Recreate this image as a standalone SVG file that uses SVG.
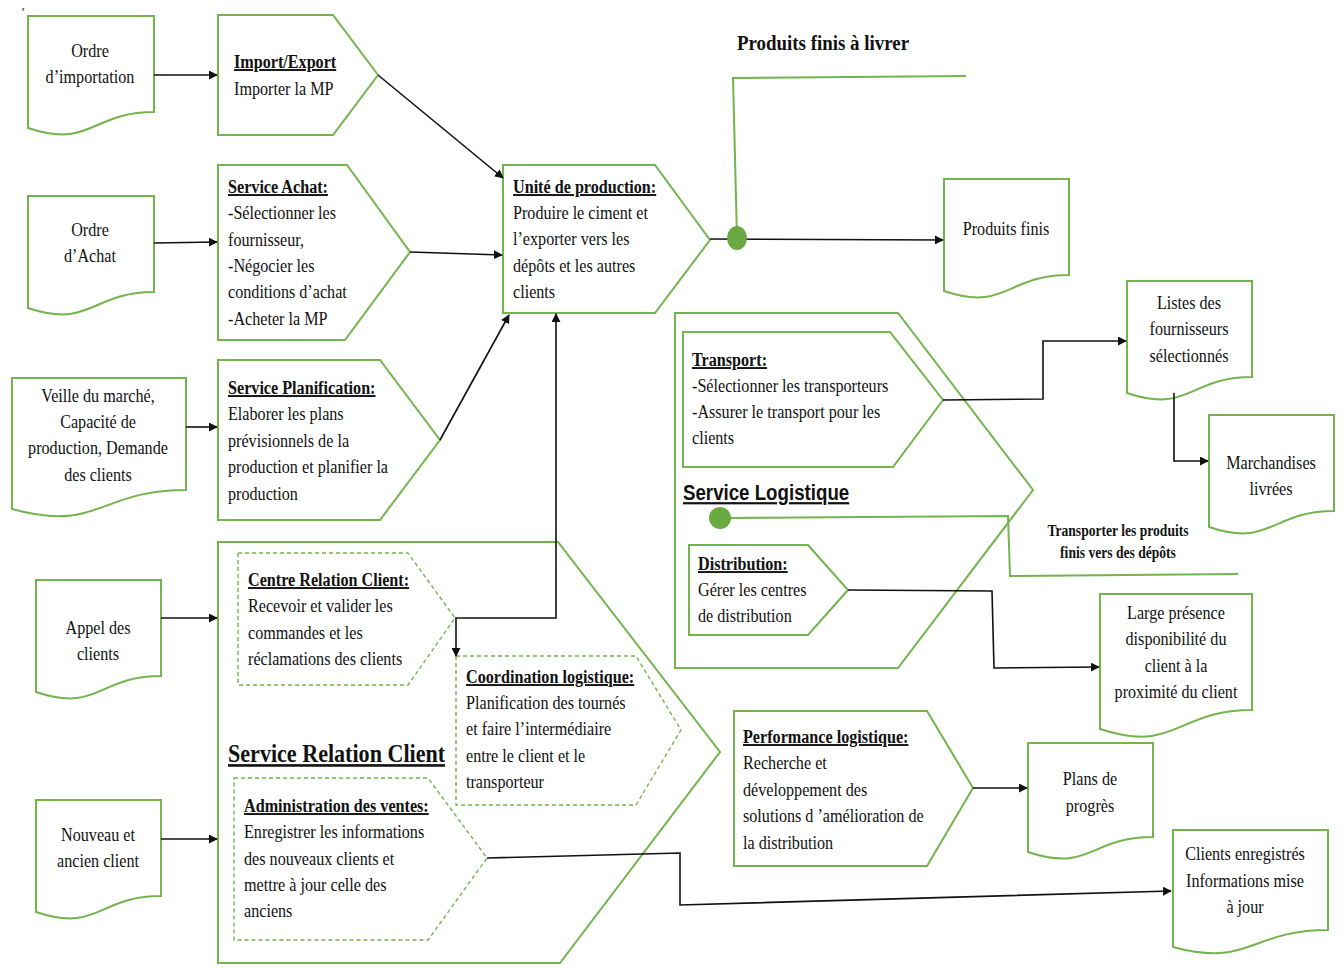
<svg xmlns="http://www.w3.org/2000/svg" width="1344" height="971" viewBox="0 0 1344 971">
  <style>
    .shape { fill: #ffffff; stroke: #74B44E; stroke-width: 2; }
    .dash { fill: #ffffff; stroke: #74B44E; stroke-width: 1.4; stroke-dasharray: 4 3; }
    .gline { fill: none; stroke: #74B44E; stroke-width: 2; }
    .dot { fill: #6AA842; }
    .conn { fill: none; stroke: #111111; stroke-width: 1.6; }
    .t { font-family: "Liberation Serif", "Times New Roman", serif; font-size: 19px; fill: #111111; }
    .c { text-anchor: middle; }
    .b { font-weight: bold; text-decoration: underline; }
    .bold { font-weight: bold; }
    .big { font-size: 26px; }
    .sans { font-family: "Liberation Sans", Arial, sans-serif; font-size: 22px; font-weight: bold; text-decoration: underline; fill: #111111; }
  </style>
  <defs>
    <marker id="arr" viewBox="0 0 10 10" refX="9" refY="5" markerWidth="9" markerHeight="9" markerUnits="userSpaceOnUse" orient="auto">
      <path d="M0,0 L10,5 L0,10 z" fill="#111111"/>
    </marker>
  </defs>

  <rect width="1344" height="971" fill="#ffffff"/>
  <text x="21" y="16" style="font-family:'Liberation Serif',serif;font-size:12px;fill:#111">’</text>

  <!-- documents -->
  <g id="ordre-importation">
    <path class="shape" d="M28,16 H154 V112 C91,112 91,149 28,128 Z"/>
    <text class="t c" transform="translate(90 0) scale(.85 1)"><tspan x="0" y="57">Ordre</tspan><tspan x="0" y="83">d’importation</tspan></text>
  </g>
  <g id="ordre-achat">
    <path class="shape" d="M28,196 H154 V292 C91,292 91,329 28,308 Z"/>
    <text class="t c" transform="translate(90 0) scale(.85 1)"><tspan x="0" y="236">Ordre</tspan><tspan x="0" y="262">d’Achat</tspan></text>
  </g>
  <g id="veille-marche">
    <path class="shape" d="M12,378 H186 V490 C99,490 99,533 12,509 Z"/>
    <text class="t c" transform="translate(98 0) scale(.85 1)"><tspan x="0" y="402">Veille du marché,</tspan><tspan x="0" y="428">Capacité de</tspan><tspan x="0" y="454">production, Demande</tspan><tspan x="0" y="481">des clients</tspan></text>
  </g>
  <g id="appel-clients">
    <path class="shape" d="M36,580 H161 V676 C98,676 98,713 36,692 Z"/>
    <text class="t c" transform="translate(98 0) scale(.85 1)"><tspan x="0" y="634">Appel des</tspan><tspan x="0" y="660">clients</tspan></text>
  </g>
  <g id="nouveau-client">
    <path class="shape" d="M36,800 H161 V896 C98,896 98,933 36,912 Z"/>
    <text class="t c" transform="translate(98 0) scale(.85 1)"><tspan x="0" y="841">Nouveau et</tspan><tspan x="0" y="867">ancien client</tspan></text>
  </g>
  <g id="produits-finis">
    <path class="shape" d="M944,179 H1069 V275 C1006,275 1006,312 944,291 Z"/>
    <text class="t c" transform="translate(1006 0) scale(.85 1)"><tspan x="0" y="235">Produits finis</tspan></text>
  </g>
  <g id="listes-fournisseurs">
    <path class="shape" d="M1127,281 H1252 V377 C1189,377 1189,414 1127,393 Z"/>
    <text class="t c" transform="translate(1189 0) scale(.85 1)"><tspan x="0" y="309">Listes des</tspan><tspan x="0" y="335">fournisseurs</tspan><tspan x="0" y="362">sélectionnés</tspan></text>
  </g>
  <g id="marchandises-livrees">
    <path class="shape" d="M1209,415 H1334 V511 C1271,511 1271,548 1209,527 Z"/>
    <text class="t c" transform="translate(1271 0) scale(.85 1)"><tspan x="0" y="469">Marchandises</tspan><tspan x="0" y="495">livrées</tspan></text>
  </g>
  <g id="large-presence">
    <path class="shape" d="M1100,594 H1252 V710 C1176,710 1176,754 1100,729 Z"/>
    <text class="t c" transform="translate(1176 0) scale(.85 1)"><tspan x="0" y="619">Large présence</tspan><tspan x="0" y="645">disponibilité du</tspan><tspan x="0" y="672">client à la</tspan><tspan x="0" y="698">proximité du client</tspan></text>
  </g>
  <g id="plans-progres">
    <path class="shape" d="M1028,743 H1153 V837 C1090,837 1090,873 1028,852 Z"/>
    <text class="t c" transform="translate(1090 0) scale(.85 1)"><tspan x="0" y="785">Plans de</tspan><tspan x="0" y="812">progrès</tspan></text>
  </g>
  <g id="clients-enregistres">
    <path class="shape" d="M1173,830 H1328 V930 C1250,930 1250,968 1173,947 Z"/>
    <text class="t c" transform="translate(1245 0) scale(.85 1)"><tspan x="0" y="860">Clients enregistrés</tspan><tspan x="0" y="887">Informations mise</tspan><tspan x="0" y="913">à jour</tspan></text>
  </g>

  <!-- process steps -->
  <g id="import-export">
    <polygon class="shape" points="218,15 333,15 378,75 333,135 218,135"/>
    <text class="t" transform="translate(234 0) scale(.85 1)"><tspan class="b" x="0" y="68">Import/Export</tspan><tspan x="0" y="95">Importer la MP</tspan></text>
  </g>
  <g id="service-achat">
    <polygon class="shape" points="218,165 347,165 410,252 345,340 218,340"/>
    <text class="t" transform="translate(228 0) scale(.85 1)"><tspan class="b" x="0" y="193">Service Achat:</tspan><tspan x="0" y="219">-Sélectionner les</tspan><tspan x="0" y="246">fournisseur,</tspan><tspan x="0" y="272">-Négocier les</tspan><tspan x="0" y="298">conditions d’achat</tspan><tspan x="0" y="325">-Acheter la MP</tspan></text>
  </g>
  <g id="service-planification">
    <polygon class="shape" points="218,360 380,360 440,440 380,520 218,520"/>
    <text class="t" transform="translate(228 0) scale(.85 1)"><tspan class="b" x="0" y="394">Service Planification:</tspan><tspan x="0" y="420">Elaborer les plans</tspan><tspan x="0" y="447">prévisionnels de la</tspan><tspan x="0" y="473">production et planifier la</tspan><tspan x="0" y="500">production</tspan></text>
  </g>
  <g id="unite-production">
    <polygon class="shape" points="503,165 655,165 710,240 655,313 503,313"/>
    <text class="t" transform="translate(513 0) scale(.85 1)"><tspan class="b" x="0" y="193">Unité de production:</tspan><tspan x="0" y="219">Produire le ciment et</tspan><tspan x="0" y="245">l’exporter vers les</tspan><tspan x="0" y="272">dépôts et les autres</tspan><tspan x="0" y="298">clients</tspan></text>
  </g>

  <!-- logistics service -->
  <g id="service-logistique">
    <polygon class="shape" points="675,313 898,313 1033,490 898,668 675,668"/>
    <text class="sans" transform="translate(683 0) scale(.85 1)" x="0" y="500">Service Logistique</text>
  </g>
  <g id="transport">
    <polygon class="shape" points="683,332 890,332 943,400 893,467 683,467"/>
    <text class="t" transform="translate(692 0) scale(.85 1)"><tspan class="b" x="0" y="366">Transport:</tspan><tspan x="0" y="392">-Sélectionner les transporteurs</tspan><tspan x="0" y="418">-Assurer le transport pour les</tspan><tspan x="0" y="444">clients</tspan></text>
  </g>
  <g id="distribution">
    <polygon class="shape" points="689,545 808,545 848,590 808,635 689,635"/>
    <text class="t" transform="translate(698 0) scale(.85 1)"><tspan class="b" x="0" y="570">Distribution:</tspan><tspan x="0" y="596">Gérer les centres</tspan><tspan x="0" y="622">de distribution</tspan></text>
  </g>
  <g id="performance-logistique">
    <polygon class="shape" points="734,711 927,711 973,788 927,866 734,866"/>
    <text class="t" transform="translate(743 0) scale(.85 1)"><tspan class="b" x="0" y="743">Performance logistique:</tspan><tspan x="0" y="769">Recherche et</tspan><tspan x="0" y="796">développement des</tspan><tspan x="0" y="822">solutions d ’amélioration de</tspan><tspan x="0" y="849">la distribution</tspan></text>
  </g>

  <!-- customer relations service -->
  <g id="service-relation-client">
    <polygon class="shape" points="218,542 558,542 720,752 560,963 218,963"/>
    <text class="t b big" transform="translate(228 0) scale(.85 1)" x="0" y="762">Service Relation Client</text>
  </g>
  <g id="centre-relation-client">
    <polygon class="dash" points="238,553 408,553 455,618 408,685 238,685"/>
    <text class="t" transform="translate(248 0) scale(.85 1)"><tspan class="b" x="0" y="586">Centre Relation Client:</tspan><tspan x="0" y="612">Recevoir et valider les</tspan><tspan x="0" y="639">commandes et les</tspan><tspan x="0" y="665">réclamations des clients</tspan></text>
  </g>
  <g id="coordination-logistique">
    <polygon class="dash" points="456,656 636,656 681,730 636,805 456,805"/>
    <text class="t" transform="translate(466 0) scale(.85 1)"><tspan class="b" x="0" y="683">Coordination logistique:</tspan><tspan x="0" y="709">Planification des tournés</tspan><tspan x="0" y="735">et faire l’intermédiaire</tspan><tspan x="0" y="762">entre le client et le</tspan><tspan x="0" y="788">transporteur</tspan></text>
  </g>
  <g id="administration-ventes">
    <polygon class="dash" points="234,778 428,778 487,858 428,940 234,940"/>
    <text class="t" transform="translate(244 0) scale(.85 1)"><tspan class="b" x="0" y="812">Administration des ventes:</tspan><tspan x="0" y="838">Enregistrer les informations</tspan><tspan x="0" y="865">des nouveaux clients et</tspan><tspan x="0" y="891">mettre à jour celle des</tspan><tspan x="0" y="917">anciens</tspan></text>
  </g>

  <!-- annotation: finished goods to deliver -->
  <g id="produits-a-livrer">
    <text class="t bold" transform="translate(737 0) scale(.86 1)" x="0" y="50" style="font-size:22px">Produits finis à livrer</text>
    <polyline class="gline" points="966,76 733,78 737,238"/>
  </g>

  <!-- annotation: transport of finished goods to depots -->
  <g id="transporter-depots">
    <polyline class="gline" points="720,518 1008,516 1010,576 1238,574"/>
    <circle class="dot" cx="720" cy="518" r="11"/>
    <text class="t bold c" transform="translate(1118 0) scale(.85 1)" style="font-size:16px"><tspan x="0" y="536">Transporter les produits</tspan><tspan x="0" y="558">finis vers des dépôts</tspan></text>
  </g>

  <!-- connectors -->
  <g id="connectors">
    <line class="conn" x1="154" y1="75" x2="217" y2="75" marker-end="url(#arr)"/>
    <line class="conn" x1="154" y1="243" x2="217" y2="242" marker-end="url(#arr)"/>
    <line class="conn" x1="186" y1="427" x2="217" y2="427" marker-end="url(#arr)"/>
    <line class="conn" x1="378" y1="75" x2="503" y2="178" marker-end="url(#arr)"/>
    <line class="conn" x1="410" y1="252" x2="502" y2="255" marker-end="url(#arr)"/>
    <line class="conn" x1="440" y1="440" x2="509" y2="315" marker-end="url(#arr)"/>
    <polyline class="conn" points="455,618 556,618 556,314" marker-end="url(#arr)"/>
    <line class="conn" x1="456" y1="618" x2="456" y2="656" marker-end="url(#arr)"/>
    <line class="conn" x1="710" y1="239" x2="943" y2="240" marker-end="url(#arr)"/>
    <polyline class="conn" points="943,400 1043,399 1043,341 1126,341" marker-end="url(#arr)"/>
    <polyline class="conn" points="1174,393 1174,461 1208,461" marker-end="url(#arr)"/>
    <polyline class="conn" points="848,590 992,591 994,668 1099,667" marker-end="url(#arr)"/>
    <line class="conn" x1="973" y1="788" x2="1027" y2="788" marker-end="url(#arr)"/>
    <line class="conn" x1="161" y1="618" x2="217" y2="618" marker-end="url(#arr)"/>
    <line class="conn" x1="161" y1="839" x2="217" y2="839" marker-end="url(#arr)"/>
    <polyline class="conn" points="487,858 680,853 680,905 1171,891" marker-end="url(#arr)"/>
  </g>

  <ellipse class="dot" cx="737" cy="238" rx="10" ry="12"/>
</svg>
